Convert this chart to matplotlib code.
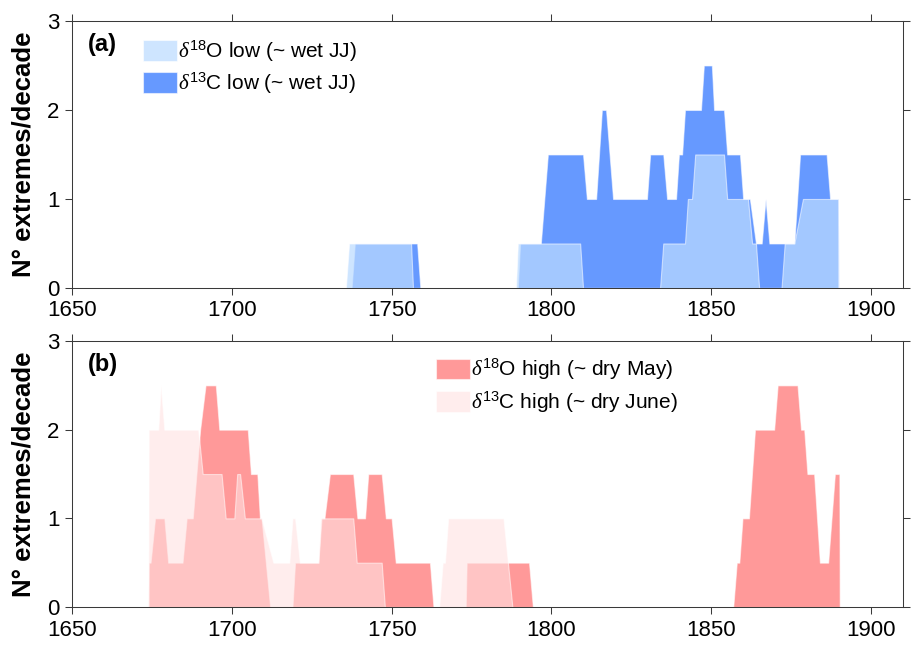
"""Decadal counts of isotope extremes, two stacked panels."""

import matplotlib
matplotlib.use('Agg')
import matplotlib.pyplot as plt
import numpy as np

# (a) low extremes, breakpoints (year, count per decade)
d13c_low_year = [1737.5, 1738.5, 1758.0, 1759.0, 1789.5, 1790.2, 1796.7, 1798.9, 1809.9, 1811.1,
                 1814.0, 1815.8, 1817.1, 1819.3, 1829.9, 1830.9, 1835.0, 1836.2, 1839.0, 1839.9,
                 1840.9, 1841.8, 1846.8, 1847.7, 1850.2, 1850.9, 1854.0, 1855.0, 1859.0, 1860.0,
                 1862.1, 1864.0, 1865.8, 1867.0, 1868.2, 1876.0, 1877.8, 1886.1, 1887.2, 1889.8,
                 1889.9]
d13c_low_val = [0, 0.5, 0.5, 0, 0, 0.5, 0.5, 1.5, 1.5, 1.0,
                1.0, 2.0, 2.0, 1.0, 1.0, 1.5, 1.5, 1.0, 1.0, 1.5,
                1.5, 2.0, 2.0, 2.5, 2.5, 2.0, 2.0, 1.5, 1.5, 1.0,
                1.0, 0.5, 0.5, 1.0, 0.5, 0.5, 1.5, 1.5, 1.0, 1.0,
                0]

d18o_low_year = [1735.7, 1736.7, 1756.1, 1756.7, 1788.9, 1789.5, 1809.0, 1809.9, 1834.0, 1835.0,
                 1841.8, 1842.7, 1844.0, 1845.0, 1854.0, 1855.0, 1861.5, 1862.8, 1864.0, 1865.0,
                 1872.0, 1873.0, 1876.0, 1878.7, 1889.7, 1889.8]
d18o_low_val = [0, 0.5, 0.5, 0, 0, 0.5, 0.5, 0, 0, 0.5,
                0.5, 1.0, 1.0, 1.5, 1.5, 1.0, 1.0, 0.5, 0.5, 0,
                0, 0.5, 0.5, 1.0, 1.0, 0]

# (b) high extremes
d18o_high_year = [1673.9, 1674.0, 1674.6, 1676.0, 1678.9, 1680.1, 1684.6, 1685.9, 1687.8, 1690.1,
                  1691.8, 1695.0, 1696.1, 1705.0, 1706.0, 1708.0, 1708.8, 1709.3, 1712.0, 1719.0,
                  1719.8, 1727.1, 1728.1, 1729.0, 1730.7, 1738.0, 1739.3, 1741.7, 1742.7, 1746.9,
                  1748.2, 1750.0, 1751.3, 1762.0, 1763.1, 1773.2, 1773.5, 1793.0, 1794.2, 1856.9,
                  1858.0, 1858.8, 1859.8, 1861.8, 1863.7, 1869.7, 1870.8, 1877.0, 1878.1, 1879.1,
                  1880.1, 1882.2, 1884.0, 1886.6, 1888.7, 1890.1, 1890.2]
d18o_high_val = [0, 0.5, 0.5, 1.0, 1.0, 0.5, 0.5, 1.0, 1.0, 2.0,
                 2.5, 2.5, 2.0, 2.0, 1.5, 1.5, 1.0, 1.0, 0, 0,
                 0.5, 0.5, 1.0, 1.0, 1.5, 1.5, 1.0, 1.0, 1.5, 1.5,
                 1.0, 1.0, 0.5, 0.5, 0, 0, 0.5, 0.5, 0, 0,
                 0.5, 0.5, 1.0, 1.0, 2.0, 2.0, 2.5, 2.5, 2.0, 2.0,
                 1.5, 1.5, 0.5, 0.5, 1.5, 1.5, 0]

d13c_high_year = [1673.9, 1674.0, 1677.0, 1677.8, 1678.9, 1689.5, 1690.9, 1696.8, 1698.1, 1700.8,
                  1701.7, 1702.6, 1704.1, 1709.3, 1713.0, 1718.0, 1719.0, 1719.8, 1721.3, 1727.1,
                  1727.8, 1738.0, 1739.1, 1746.9, 1747.9, 1764.9, 1766.0, 1766.7, 1767.7, 1785.0,
                  1787.8]
d13c_high_val = [0, 2.0, 2.0, 2.5, 2.0, 2.0, 1.5, 1.5, 1.0, 1.0,
                 1.5, 1.5, 1.0, 1.0, 0.5, 0.5, 1.0, 1.0, 0.5, 0.5,
                 1.0, 1.0, 0.5, 0.5, 0, 0, 0.5, 0.5, 1.0, 1.0,
                 0]

xticks = [1650, 1700, 1750, 1800, 1850, 1900]
yticks = [0, 1, 2, 3]

plt.rcParams['font.family'] = ['Liberation Sans', 'DejaVu Sans']
plt.rcParams['mathtext.fontset'] = 'custom'
plt.rcParams['mathtext.rm'] = 'Liberation Sans'
plt.rcParams['mathtext.it'] = 'Liberation Serif:italic'
plt.rcParams['mathtext.bf'] = 'Liberation Sans:bold'

AXIS_COLOR = '#3a3a3a'
EDGE = (1, 1, 1, 0.55)


def style_axes(ax, tag):
    ax.set_xlim(1650, 1910)
    ax.set_ylim(0, 3)
    ax.set_xticks(xticks)
    ax.set_yticks(yticks)
    ax.tick_params(direction='out', length=5, width=0.75, color=AXIS_COLOR,
                   labelsize=16, top=True, right=True, pad=4)
    for sp in ax.spines.values():
        sp.set_color(AXIS_COLOR)
        sp.set_linewidth(0.75)
    ax.set_ylabel('N° extremes/decade', fontsize=18.5, fontweight='bold')
    ax.yaxis.set_label_coords(-0.044, 0.5)
    ax.text(0.019, 0.955, tag, transform=ax.transAxes, fontsize=17,
            fontweight='bold', va='top', ha='left')


fig = plt.figure(figsize=(9.12, 6.47), dpi=100)
ax_a = fig.add_axes([0.0789, 0.5549, 0.9112, 0.4127])
ax_b = fig.add_axes([0.0789, 0.0618, 0.9112, 0.4111])

# panel (a)
c13 = ax_a.fill_between(d13c_low_year, d13c_low_val, 0, facecolor='#6699ff',
                        edgecolor=EDGE, linewidth=0.8)
o18 = ax_a.fill_between(d18o_low_year, d18o_low_val, 0,
                        facecolor=(188 / 255, 219 / 255, 1, 0.72),
                        edgecolor=EDGE, linewidth=0.8)
style_axes(ax_a, '(a)')
ax_a.legend([o18, c13],
            [r'$\delta^{18}$O low (~ wet JJ)', r'$\delta^{13}$C low (~ wet JJ)'],
            loc='upper left', bbox_to_anchor=(0.0854, 0.935), frameon=False,
            fontsize=15, borderpad=0, borderaxespad=0, handlelength=1.63,
            handleheight=1.15, handletextpad=0.05, labelspacing=0.35)

# panel (b)
o18h = ax_b.fill_between(d18o_high_year, d18o_high_val, 0, facecolor='#ff9999',
                         edgecolor=EDGE, linewidth=0.8)
c13h = ax_b.fill_between(d13c_high_year, d13c_high_val, 0,
                         facecolor=(1, 225 / 255, 225 / 255, 0.6),
                         edgecolor=EDGE, linewidth=0.8)
style_axes(ax_b, '(b)')
ax_b.legend([o18h, c13h],
            [r'$\delta^{18}$O high (~ dry May)', r'$\delta^{13}$C high (~ dry June)'],
            loc='upper left', bbox_to_anchor=(0.438, 0.94), frameon=False,
            fontsize=15, borderpad=0, borderaxespad=0, handlelength=1.63,
            handleheight=1.15, handletextpad=0.05, labelspacing=0.35)

fig.savefig('out.png', dpi=100)
